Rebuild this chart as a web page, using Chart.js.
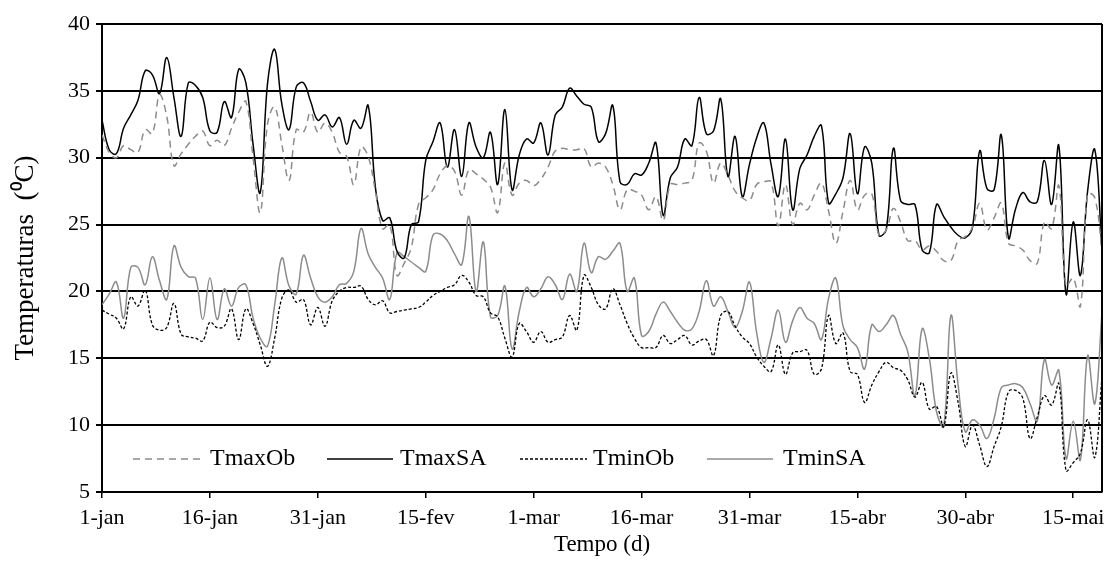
<!DOCTYPE html>
<html>
<head>
<meta charset="utf-8">
<script src="https://cdn.jsdelivr.net/npm/chart.js@4.4.0/dist/chart.umd.min.js"></script>
<style>
  html, body { margin: 0; padding: 0; background: #fff; }
</style>
</head>
<body>
<canvas id="tempChart" width="1114" height="579"></canvas>
<script>
// tick labels on the time axis, one every 15 days starting 1-jan
const tickLabels = ['1-jan', '16-jan', '31-jan', '15-fev', '1-mar', '16-mar', '31-mar', '15-abr', '30-abr', '15-mai'];

// daily values, 1-jan (day 0) to day 139
const tmaxOb = [
  31.7, 30.4, 30.0, 30.9, 30.6, 30.4, 32.1, 31.8, 34.7, 33.1,
  29.4, 30.3, 31.0, 31.6, 32.0, 30.9, 31.3, 30.9, 32.2, 33.4,
  34.2, 30.0, 25.9, 32.5, 33.8, 31.0, 28.3, 32.1, 31.9, 33.4,
  31.9, 32.6, 31.9, 30.4, 30.1, 28.0, 30.8, 30.1, 27.5, 24.7,
  25.0, 21.2, 22.1, 23.3, 26.5, 27.0, 27.6, 28.8, 29.4, 29.0,
  27.2, 29.1, 28.8, 28.4, 27.8, 25.9, 29.6, 27.2, 28.1, 28.3,
  27.9, 28.4, 29.3, 30.5, 30.7, 30.6, 30.6, 30.7, 29.3, 29.6,
  29.3, 28.0, 26.1, 27.6, 27.5, 27.2, 26.1, 27.1, 25.3, 28.0,
  28.0, 28.1, 28.3, 31.1, 30.5, 28.1, 29.6, 28.7, 27.5, 27.0,
  26.8, 28.0, 28.2, 28.2, 24.9, 28.0, 25.0, 26.6, 26.1, 27.2,
  28.1, 26.0, 23.6, 26.0, 28.3, 26.1, 27.2, 27.3, 24.2, 24.6,
  26.2, 25.2, 23.8, 23.8, 23.1, 23.4, 23.0, 22.3, 22.3, 23.8,
  24.1, 24.8, 26.6, 24.6, 25.5, 26.6, 23.6, 23.4, 23.1, 22.3,
  22.1, 25.2, 24.7, 27.9, 20.4, 21.0, 18.9, 27.3, 27.0, 23.1
];
const tmaxSA = [
  32.8, 30.6, 30.3, 32.2, 33.2, 34.3, 36.5, 36.2, 34.8, 37.5,
  34.5, 31.6, 35.6, 35.4, 34.5, 32.0, 31.9, 34.2, 33.0, 36.6,
  35.6, 31.0, 27.4, 35.5, 38.1, 34.0, 32.1, 35.3, 35.6, 34.2,
  32.8, 33.2, 32.3, 33.0, 31.0, 32.8, 32.2, 33.9, 27.8, 25.3,
  25.5, 23.0, 22.5, 25.0, 25.2, 29.8, 31.2, 32.6, 29.3, 32.1,
  28.6, 32.6, 30.8, 30.0, 31.9, 28.0, 33.6, 27.6, 30.2, 31.4,
  31.1, 32.6, 30.2, 33.2, 33.8, 35.2, 34.6, 34.0, 33.8, 31.2,
  31.8, 33.9, 28.2, 28.0, 28.8, 28.7, 29.6, 31.1, 25.7, 28.5,
  29.3, 31.4, 30.9, 34.5, 31.8, 32.0, 34.4, 28.6, 31.6, 27.1,
  29.5, 31.5, 32.6, 29.5, 27.1, 31.4, 26.1, 29.2, 30.2, 31.6,
  32.4, 26.6, 27.3, 28.5, 31.8, 27.3, 30.8, 29.6, 24.2, 24.6,
  30.7, 26.8, 26.5, 26.5, 23.1, 22.9, 26.5, 25.6, 24.8, 24.2,
  24.0, 24.8, 30.5, 27.7, 27.6, 31.7, 24.0, 26.2, 27.4, 26.7,
  26.7, 29.8, 26.5, 30.9, 19.8, 25.2, 21.2, 27.5, 30.6, 23.1
];
const tminOb = [
  18.6, 18.3, 18.0, 17.2, 19.6, 18.9, 20.1, 17.5, 17.1, 17.3,
  19.1, 16.8, 16.6, 16.5, 16.3, 17.7, 17.3, 17.4, 18.7, 16.4,
  18.7, 17.6, 16.0, 14.4, 16.5, 19.5, 20.1, 19.2, 19.4, 17.5,
  18.8, 17.4, 19.3, 20.0, 20.3, 20.3, 20.4, 19.4, 19.0, 19.3,
  18.4, 18.5, 18.6, 18.7, 18.8, 19.2, 19.7, 20.0, 20.3, 20.5,
  21.2, 20.7, 19.7, 19.6, 18.4, 18.1, 16.5, 15.1, 17.6, 17.0,
  16.2, 17.0, 16.2, 16.4, 16.6, 18.2, 17.1, 21.2, 20.3, 19.0,
  18.7, 20.2, 19.0, 17.6, 16.5, 15.8, 15.8, 15.8, 16.7, 16.1,
  16.4, 16.7, 16.0, 16.3, 16.4, 15.2, 18.2, 18.5, 17.4, 16.6,
  16.1, 15.1, 14.4, 14.0, 16.0, 13.8, 15.4, 15.5, 15.6, 13.8,
  14.2, 18.2, 16.1, 16.9, 14.0, 13.8, 11.7, 13.0, 14.0, 14.7,
  14.3, 14.1, 13.4, 12.1, 13.2, 11.2, 11.4, 9.9, 13.9, 11.7,
  8.4, 10.0, 8.5, 6.9, 8.4, 9.9, 12.5, 12.6, 12.0, 9.0,
  10.6, 12.2, 11.5, 13.1, 6.6, 7.2, 7.9, 10.4, 7.6, 13.6
];
const tminSA = [
  19.0, 19.8, 20.7, 18.0, 21.8, 21.8, 20.5, 22.6, 20.8, 19.4,
  23.4, 21.8, 21.1, 21.0, 17.9, 21.0, 17.9, 20.2, 18.9, 20.3,
  20.5, 18.0, 16.5, 15.9, 19.0, 22.5, 20.4, 19.8, 22.7, 21.0,
  19.6, 19.2, 19.6, 20.5, 20.6, 21.5, 24.7, 22.8, 21.8, 21.0,
  19.4, 22.9, 22.6, 22.2, 21.8, 21.5, 24.2, 24.3, 23.8, 22.8,
  22.0, 25.6, 20.0, 23.7, 18.1, 18.2, 20.4, 15.7, 18.5, 20.3,
  19.6, 20.2, 21.1, 20.5, 19.4, 21.3, 20.0, 23.6, 21.4, 22.6,
  22.4, 23.0, 23.6, 20.0, 21.0, 16.7, 17.0, 18.3, 19.2, 18.5,
  17.7, 17.1, 17.2, 18.5, 20.8, 18.9, 19.6, 18.5, 17.3, 18.5,
  20.7, 16.9, 14.7, 16.5, 18.6, 16.2, 17.8, 18.8, 18.0, 17.6,
  16.4, 19.5, 21.0, 17.4, 16.4, 15.8, 14.2, 17.5, 17.0, 17.5,
  18.2, 16.8, 15.5, 12.2, 17.2, 15.0, 11.0, 9.9, 18.2, 13.0,
  9.5, 10.4, 10.0, 9.0, 10.5, 12.8, 13.0, 13.1, 12.8, 11.6,
  10.3, 14.9, 13.0, 14.1, 7.5, 10.3, 7.4, 15.2, 11.6, 18.4
];

const gray = '#8c8c8c';
const serif = 'Liberation Serif, Times New Roman, serif';

function toPoints(arr) {
  return arr.map((v, i) => ({ x: i, y: v }));
}

// legend drawn inside the plot, along the bottom
const legendEntries = [
  { label: 'TmaxOb', color: gray, dash: [7, 5], width: 1.5, x0: 133, x1: 200, tx: 210 },
  { label: 'TmaxSA', color: '#000', dash: [], width: 1.5, x0: 327, x1: 393, tx: 400 },
  { label: 'TminOb', color: '#000', dash: [3, 2], width: 1.3, x0: 520, x1: 587, tx: 593 },
  { label: 'TminSA', color: gray, dash: [], width: 1.5, x0: 707, x1: 773, tx: 783 }
];

const insideLegend = {
  id: 'insideLegend',
  afterDatasetsDraw(chart) {
    const ctx = chart.ctx;
    const area = chart.chartArea;
    const y = area.bottom - 33;
    ctx.save();
    legendEntries.forEach(e => {
      ctx.beginPath();
      ctx.setLineDash(e.dash);
      ctx.strokeStyle = e.color;
      ctx.lineWidth = e.width;
      ctx.moveTo(e.x0, y);
      ctx.lineTo(e.x1, y);
      ctx.stroke();
      ctx.setLineDash([]);
      ctx.fillStyle = '#000';
      ctx.font = '24px ' + serif;
      ctx.textBaseline = 'middle';
      ctx.textAlign = 'left';
      ctx.fillText(e.label, e.tx, y);
    });
    // right border of the plot area
    ctx.beginPath();
    ctx.strokeStyle = '#000';
    ctx.lineWidth = 2;
    ctx.moveTo(area.right, area.top);
    ctx.lineTo(area.right, area.bottom);
    ctx.stroke();
    ctx.restore();
  }
};

function lineSet(label, values, color, dash, width) {
  return {
    label: label,
    data: toPoints(values),
    borderColor: color,
    borderDash: dash,
    borderWidth: width,
    pointRadius: 0,
    tension: 0.4,
    fill: false
  };
}

new Chart(document.getElementById('tempChart'), {
  type: 'line',
  data: {
    datasets: [
      lineSet('TmaxOb', tmaxOb, gray, [7, 5], 1.5),
      lineSet('TmaxSA', tmaxSA, '#000', [], 1.5),
      lineSet('TminOb', tminOb, '#000', [3, 2], 1.3),
      lineSet('TminSA', tminSA, gray, [], 1.5)
    ]
  },
  options: {
    responsive: false,
    animation: false,
    layout: { padding: { top: 24, right: 12, bottom: 18, left: 0 } },
    plugins: {
      legend: { display: false },
      tooltip: { enabled: false }
    },
    scales: {
      x: {
        type: 'linear',
        min: 0,
        max: 139,
        afterFit: s => { s.height = 69; },
        ticks: {
          stepSize: 15,
          includeBounds: false,
          autoSkip: false,
          maxRotation: 0,
          padding: 7,
          color: '#000',
          font: { family: serif, size: 22 },
          callback: v => tickLabels[v / 15]
        },
        grid: { drawOnChartArea: false, color: '#000', lineWidth: 1.5, tickLength: 6 },
        border: { color: '#000', width: 2 },
        title: {
          display: true,
          text: 'Tempo (d)',
          color: '#000',
          font: { family: serif, size: 23 },
          padding: { top: 0, bottom: 2 }
        }
      },
      y: {
        min: 5,
        max: 40,
        afterFit: s => { s.width = 102; },
        ticks: {
          stepSize: 5,
          padding: 6,
          color: '#000',
          font: { family: serif, size: 22 }
        },
        grid: { color: '#000', lineWidth: 2, tickLength: 6 },
        border: { color: '#000', width: 2 },
        title: {
          display: true,
          text: 'Temperaturas  (\u2070C)',
          color: '#000',
          font: { family: serif, size: 27 },
          padding: { top: 10, bottom: 0 }
        }
      }
    }
  },
  plugins: [insideLegend]
});
</script>
</body>
</html>
